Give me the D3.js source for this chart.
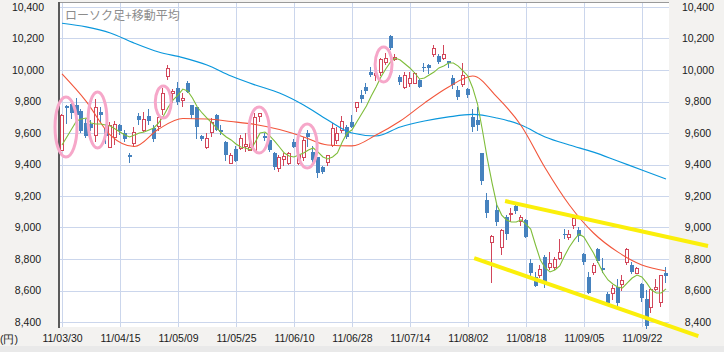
<!DOCTYPE html>
<html>
<head>
<meta charset="utf-8">
<script src="https://cdn.jsdelivr.net/npm/d3@7"></script>
<style>
  body { margin: 0; background: #f3f2f0; }
  svg { display: block; }
</style>
</head>
<body>
<div id="chart"></div>
<script>
// x tick labels, one every 12 trading days
const tickLabels = ["11/03/30", "11/04/15", "11/05/09", "11/05/25", "11/06/10", "11/06/28",
                    "11/07/14", "11/08/02", "11/08/18", "11/09/05", "11/09/22"];
const tickEvery = 12;
const yTicks = [8400, 8600, 8800, 9000, 9200, 9400, 9600, 9800, 10000, 10200, 10400];

// daily candles: [open, high, low, close]
const ohlc = [
  [9492, 9720, 9485, 9714], [9773, 9775, 9660, 9756], [9784, 9816, 9686, 9727], [9778, 9822, 9619, 9714],
  [9740, 9750, 9600, 9613], [9664, 9690, 9570, 9581], [9660, 9680, 9610, 9632], [9590, 9816, 9543, 9767],
  [9733, 9765, 9670, 9714], [9630, 9660, 9530, 9580], [9511, 9670, 9505, 9650], [9575, 9676, 9524, 9657],
  [9650, 9655, 9590, 9610], [9600, 9620, 9545, 9565], [9460, 9475, 9410, 9450], [9537, 9640, 9508, 9608],
  [9705, 9730, 9650, 9683], [9620, 9733, 9606, 9690], [9708, 9750, 9650, 9675], [9632, 9650, 9543, 9562],
  [9644, 9730, 9610, 9702], [9750, 9886, 9714, 9854], [9962, 10032, 9937, 10013], [9854, 9880, 9790, 9867],
  [9886, 9924, 9775, 9797], [9810, 9854, 9762, 9822], [9918, 9930, 9855, 9860], [9778, 9780, 9690, 9714],
  [9765, 9765, 9560, 9640], [9580, 9590, 9550, 9565], [9511, 9600, 9500, 9568], [9605, 9695, 9575, 9670],
  [9714, 9720, 9610, 9620], [9620, 9650, 9585, 9605], [9543, 9550, 9420, 9460], [9410, 9470, 9405, 9460],
  [9500, 9520, 9415, 9420], [9505, 9587, 9490, 9568], [9520, 9600, 9480, 9530], [9495, 9600, 9490, 9510],
  [9495, 9730, 9480, 9700], [9710, 9730, 9670, 9728], [9580, 9600, 9550, 9570], [9555, 9560, 9480, 9495],
  [9473, 9480, 9365, 9385], [9378, 9460, 9350, 9448], [9435, 9475, 9390, 9455], [9410, 9480, 9400, 9473],
  [9543, 9560, 9505, 9511], [9410, 9470, 9400, 9460], [9450, 9575, 9420, 9555], [9600, 9620, 9510, 9575],
  [9480, 9520, 9410, 9430], [9450, 9450, 9315, 9345], [9385, 9390, 9340, 9355], [9415, 9460, 9390, 9460],
  [9525, 9665, 9510, 9632], [9555, 9640, 9530, 9600], [9620, 9705, 9600, 9676], [9640, 9650, 9560, 9575],
  [9670, 9714, 9630, 9640], [9765, 9797, 9735, 9795], [9841, 9873, 9790, 9815], [9892, 9918, 9848, 9867],
  [9988, 10020, 9956, 9968], [9968, 10020, 9930, 9982], [9990, 10075, 9960, 10070], [10052, 10110, 10030, 10075],
  [10215, 10222, 10125, 10140], [10070, 10100, 10060, 10080], [9955, 9970, 9905, 9925], [9892, 9990, 9880, 9968],
  [9920, 9987, 9892, 9950], [9918, 9990, 9910, 9981], [9936, 9940, 9885, 9892], [10020, 10045, 9990, 10010],
  [10030, 10040, 9975, 10015], [10102, 10160, 10085, 10140], [10089, 10100, 10035, 10051], [10076, 10160, 10063, 10102],
  [10057, 10060, 10015, 10045], [9949, 9970, 9880, 9905], [9873, 9900, 9810, 9829], [9911, 10045, 9892, 9968],
  [9879, 9885, 9820, 9841], [9702, 9750, 9606, 9638], [9683, 9765, 9610, 9651], [9473, 9475, 9270, 9295],
  [9175, 9220, 9060, 9092], [8908, 8952, 8648, 8946], [9111, 9150, 9010, 9035], [8876, 8990, 8825, 8984],
  [9067, 9080, 8920, 8959], [9085, 9125, 9035, 9092], [9137, 9165, 9085, 9105], [9041, 9080, 9010, 9067],
  [9048, 9055, 8935, 8940], [8775, 8800, 8690, 8711], [8686, 8720, 8620, 8629], [8698, 8760, 8680, 8737],
  [8813, 8825, 8615, 8648], [8749, 8845, 8730, 8775], [8749, 8815, 8730, 8800], [8806, 8927, 8795, 8845],
  [8960, 8990, 8930, 8950], [8940, 8985, 8920, 8959], [9016, 9080, 8990, 9060], [8984, 9003, 8908, 8946],
  [8832, 8835, 8762, 8781], [8686, 8720, 8580, 8584], [8718, 8775, 8700, 8762], [8864, 8870, 8775, 8787],
  [8743, 8806, 8711, 8730], [8578, 8590, 8505, 8521], [8584, 8635, 8540, 8616], [8622, 8673, 8495, 8521],
  [8641, 8700, 8600, 8667], [8781, 8870, 8765, 8864], [8762, 8780, 8705, 8718], [8711, 8750, 8705, 8743],
  [8641, 8650, 8530, 8552], [8546, 8603, 8356, 8375], [8495, 8616, 8460, 8610], [8610, 8673, 8597, 8622],
  [8527, 8700, 8495, 8698], [8711, 8750, 8648, 8692]
];

// short moving average, one value per candle
const maShort = [
  9524, 9575, 9625, 9676, 9689, 9695, 9664, 9657, 9657, 9651,
  9644, 9625, 9606, 9587, 9575, 9587, 9600, 9606, 9619, 9632,
  9664, 9708, 9765, 9810, 9841, 9879, 9867, 9822, 9765, 9727,
  9695, 9664, 9632, 9600, 9575, 9556, 9530, 9511, 9505, 9492,
  9543, 9600, 9606, 9581, 9549, 9511, 9473, 9454, 9448, 9460,
  9473, 9492, 9505, 9479, 9448, 9435, 9448, 9473, 9543, 9600,
  9619, 9670, 9721, 9771, 9835, 9892, 9956, 10006, 10051, 10076,
  10063, 10038, 10013, 9981, 9943, 9949, 9968, 9987, 10013, 10025,
  10044, 10044, 10025, 9994, 9962, 9886, 9784, 9619, 9441, 9283,
  9143, 9079, 9048, 9035, 9035, 9048, 9022, 8990, 8889, 8794,
  8743, 8718, 8730, 8756, 8819, 8876, 8921, 8959, 8940, 8889,
  8838, 8775, 8711, 8667, 8641, 8622, 8616, 8648, 8679, 8698,
  8686, 8648, 8603, 8584, 8584, 8610
];

// medium and long moving averages, read every 5 candles
const maIndex = [0, 5, 10, 15, 20, 25, 30, 35, 40, 45, 50, 55, 60, 65, 70, 75, 80, 85, 90, 95, 100, 105, 110, 115, 120, 125];
const maMid = [9975, 9801, 9587, 9514, 9625, 9692, 9689, 9673, 9654, 9622, 9575, 9524, 9518,
               9587, 9676, 9790, 9892, 9962, 9829, 9648, 9378, 9143, 8965, 8845, 8762, 8724];
const maLong = [10297, 10274, 10235, 10170, 10114, 10079, 10032, 9962, 9905, 9854, 9778, 9683, 9600,
                9581, 9638, 9676, 9702, 9718, 9695, 9651, 9575, 9524, 9479, 9422, 9365, 9308];

// hand-drawn annotations: trend channel [index, price] and circled candles [fromIdx, toIdx, high, low]
const trendUpper = [[91.7, 9168], [133.7, 8883]];
const trendLower = [[85.3, 8806], [131.7, 8311]];
const highlights = [
  [-1.45, 3.1, 9829, 9448], [5.4, 9.3, 9860, 9505], [19.3, 22.6, 9898, 9695],
  [38.7, 42.9, 9765, 9473], [48.7, 52.8, 9657, 9378], [64.8, 68.3, 10146, 9924]
];

const width = 724, height = 352;
const plot = { left: 60, right: 669, top: 2, bottom: 327 };
const labelFont = "'Liberation Sans', Arial, sans-serif";

const svg = d3.select("#chart").append("svg")
    .attr("width", width)
    .attr("height", height);

svg.append("rect").attr("width", width).attr("height", height).attr("fill", "#f3f2f0");
svg.append("rect").attr("y", 346).attr("width", width).attr("height", 6).attr("fill", "#e9e9e9");
svg.append("rect")
    .attr("x", plot.left).attr("y", plot.top)
    .attr("width", plot.right - plot.left).attr("height", plot.bottom - plot.top)
    .attr("fill", "#fff");

const x = d3.scaleLinear()
    .domain([-0.5, ohlc.length - 0.5])
    .range([59.6, 668.4]);

const y = d3.scaleLinear()
    .domain([8400, 10400])
    .range([322, 7]);

const tickIdx = tickLabels.map((d, i) => i * tickEvery);

// grid
const grid = svg.append("g").attr("stroke", "#cbd6ec").attr("stroke-width", 1);
grid.selectAll(".h")
    .data(yTicks)
    .join("line")
    .attr("x1", plot.left).attr("x2", plot.right)
    .attr("y1", d => Math.round(y(d)) + 0.5)
    .attr("y2", d => Math.round(y(d)) + 0.5);
grid.selectAll(".v")
    .data(tickIdx)
    .join("line")
    .attr("x1", d => Math.round(x(d)) + 0.5)
    .attr("x2", d => Math.round(x(d)) + 0.5)
    .attr("y1", plot.top).attr("y2", plot.bottom);

// frame
svg.append("line")
    .attr("x1", plot.left).attr("x2", plot.right)
    .attr("y1", plot.top + 0.5).attr("y2", plot.top + 0.5)
    .attr("stroke", "#9a9a9a");
svg.append("line")
    .attr("x1", plot.left - 1).attr("x2", plot.left - 1)
    .attr("y1", plot.top).attr("y2", plot.bottom + 1)
    .attr("stroke", "#5a5a5a").attr("stroke-width", 2);

// axes
function styleAxis(g) {
    g.select(".domain").remove();
    g.selectAll("text")
        .attr("font-family", labelFont)
        .attr("font-size", "10.5px")
        .attr("fill", "#1a1a1a");
}

svg.append("g")
    .attr("transform", `translate(${plot.left},0)`)
    .call(d3.axisLeft(y).tickValues(yTicks).tickFormat(d3.format(",")).tickSize(0))
    .call(styleAxis)
    .selectAll("text")
        .attr("text-anchor", "middle")
        .attr("x", -32);

svg.append("g")
    .attr("transform", `translate(${plot.right},0)`)
    .call(d3.axisRight(y).tickValues(yTicks).tickFormat(d3.format(",")).tickSize(0))
    .call(styleAxis)
    .selectAll("text")
        .attr("text-anchor", "middle")
        .attr("x", 29);

svg.append("g")
    .attr("transform", `translate(0,${plot.bottom - 1})`)
    .call(d3.axisBottom(x).tickValues(tickIdx).tickFormat((d, i) => tickLabels[i]).tickSize(0).tickPadding(9))
    .call(styleAxis);

svg.append("text")
    .attr("x", 0).attr("y", 343)
    .attr("font-family", labelFont)
    .attr("font-size", "10.5px")
    .attr("fill", "#1a1a1a")
    .text("(円)");

svg.append("text")
    .attr("x", 65).attr("y", 19.5)
    .attr("font-family", "'Noto Sans CJK JP', sans-serif")
    .attr("font-size", "12px")
    .attr("fill", "#8c8c8c")
    .text("ローソク足+移動平均");

// candles
const up = "#d2465a", down = "#4682be";
const candles = svg.append("g")
    .selectAll("g")
    .data(ohlc)
    .join("g")
    .attr("transform", (d, i) => `translate(${Math.round(x(i))},0)`);

candles.append("line")
    .attr("x1", -0.5).attr("x2", -0.5)
    .attr("y1", d => Math.round(y(d[1])))
    .attr("y2", d => Math.round(y(d[2])))
    .attr("stroke", d => d[3] >= d[0] ? up : down);

candles.append("rect")
    .attr("x", d => d[3] >= d[0] ? -1.5 : -2)
    .attr("width", d => d[3] >= d[0] ? 3 : 4)
    .attr("y", d => d[3] >= d[0] ? Math.round(y(d[3])) + 0.5 : Math.round(y(d[0])))
    .attr("height", d => Math.max(1, Math.round(y(Math.min(d[0], d[3]))) - Math.round(y(Math.max(d[0], d[3])))))
    .attr("fill", d => d[3] >= d[0] ? "#fff" : down)
    .attr("stroke", d => d[3] >= d[0] ? up : "none");

// moving averages
const lineLong = d3.line().x((d, k) => x(maIndex[k])).y(d => y(d)).curve(d3.curveMonotoneX);
const lineShort = d3.line().x((d, i) => x(i)).y(d => y(d));

svg.append("path").datum(maLong).attr("d", lineLong)
    .attr("fill", "none").attr("stroke", "#0a97dc").attr("stroke-width", 1.2);
svg.append("path").datum(maMid).attr("d", lineLong)
    .attr("fill", "none").attr("stroke", "#f2553a").attr("stroke-width", 1.1);
svg.append("path").datum(maShort).attr("d", lineShort)
    .attr("fill", "none").attr("stroke", "#7fbd3a").attr("stroke-width", 1.1);

// annotations
svg.append("g")
    .selectAll("ellipse")
    .data(highlights)
    .join("ellipse")
    .attr("cx", d => (x(d[0]) + x(d[1])) / 2)
    .attr("rx", d => (x(d[1]) - x(d[0])) / 2)
    .attr("cy", d => (y(d[2]) + y(d[3])) / 2)
    .attr("ry", d => (y(d[3]) - y(d[2])) / 2)
    .attr("fill", "none")
    .attr("stroke", "#f6a7c9")
    .attr("stroke-width", 3);

const trendLine = d3.line().x(d => x(d[0])).y(d => y(d[1]));
svg.append("g")
    .selectAll("path")
    .data([trendUpper, trendLower])
    .join("path")
    .attr("d", trendLine)
    .attr("fill", "none")
    .attr("stroke", "#fbef0a")
    .attr("stroke-width", 4);
</script>
</body>
</html>
